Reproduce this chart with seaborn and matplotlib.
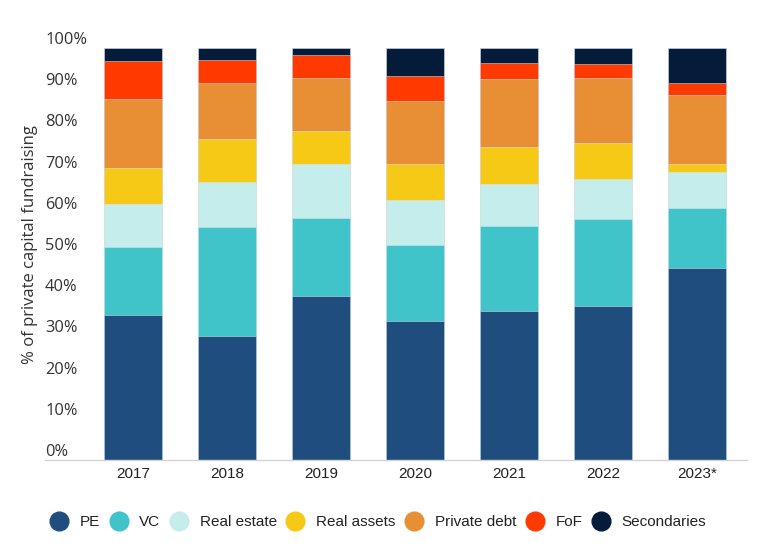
import matplotlib
matplotlib.use("Agg")
import matplotlib.pyplot as plt
from matplotlib.lines import Line2D
import seaborn as sns
import pandas as pd
import numpy as np

years = ["2017", "2018", "2019", "2020", "2021", "2022", "2023*"]
categories = ["PE", "VC", "Real estate", "Real assets", "Private debt", "FoF", "Secondaries"]
pe = [35.2, 30.2, 39.8, 33.7, 36.2, 37.3, 46.5]
vc = [16.5, 26.4, 19.0, 18.5, 20.6, 21.2, 14.6]
real_estate = [10.5, 10.9, 13.0, 11.0, 10.3, 9.7, 8.9]
real_assets = [8.6, 10.5, 8.1, 8.6, 8.9, 8.8, 1.9]
private_debt = [16.8, 13.5, 12.9, 15.3, 16.5, 15.6, 16.7]
fof = [9.3, 5.7, 5.4, 6.2, 3.9, 3.5, 3.0]
secondaries = [3.1, 2.8, 1.7, 6.7, 3.6, 3.9, 8.4]
colors = ["#1F4E7E", "#40C3C9", "#C5EDEB", "#F5C916", "#E88F36", "#FF3A00", "#041C3A"]
ytick_vals = list(range(0, 101, 10))
ytick_labels = [f"{v}%" for v in ytick_vals]

series = [pe, vc, real_estate, real_assets, private_debt, fof, secondaries]
df = pd.DataFrame({c: s for c, s in zip(categories, series)}, index=years)
cum = df.cumsum(axis=1)

sns.set_theme(style="white")
plt.rcParams["font.family"] = ["Liberation Sans", "DejaVu Sans"]

fig = plt.figure(figsize=(7.68, 5.53), dpi=100)
ax = fig.add_axes([45 / 768, 1 - 460 / 553, 702 / 768, 412 / 553])

# draw cumulative bars from top layer down so lower layers overlay
for i in range(len(categories) - 1, -1, -1):
    cat = categories[i]
    d = pd.DataFrame({"year": years, "value": cum[cat].values})
    sns.barplot(data=d, x="year", y="value", order=years, color=colors[i],
                width=0.617, errorbar=None, ax=ax, saturation=1,
                edgecolor=(0.85, 0.9, 0.95, 0.6), linewidth=0.6, zorder=10 - i)

ax.set_xlim(-0.936, 6.53)
ax.set_ylim(0, 100)
ax.set_xlabel("")
ax.set_ylabel("% of private capital fundraising", fontsize=12,
              family=["Open Sans", "DejaVu Sans"], color="#333333", va="center")
ax.yaxis.set_label_coords(-0.021, 0.522)

ax.set_yticks(ytick_vals)
ax.set_yticklabels(ytick_labels, family=["Open Sans", "DejaVu Sans"], fontsize=11.8, color="#333333")
plt.setp(ax.get_yticklabels(), ha="left", va="bottom")
ax.tick_params(axis="y", length=0, pad=0)
ax.tick_params(axis="x", length=0, pad=5, labelsize=11, labelcolor="#222222")

for s in ["top", "right", "left"]:
    ax.spines[s].set_visible(False)
ax.spines["bottom"].set_color("#d4d4d4")
ax.spines["bottom"].set_linewidth(1.0)
ax.spines["bottom"].set_zorder(20)

handles = [Line2D([0], [0], marker="o", linestyle="none", markersize=13.5,
                  markerfacecolor=c, markeredgecolor=c) for c in colors]
fig.legend(handles, categories, loc="center", bbox_to_anchor=(378 / 768, 1 - 522 / 553),
           ncol=7, frameon=False, fontsize=11, handlelength=1.2, handletextpad=0.75,
           columnspacing=0.62, labelcolor="#222222")

fig.savefig("out.png", dpi=100)
